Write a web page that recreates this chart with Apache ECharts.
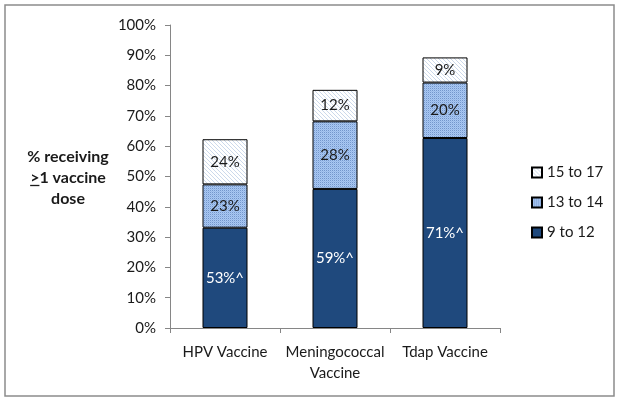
<!DOCTYPE html>
<html>
<head>
<meta charset="utf-8">
<script src="https://cdn.jsdelivr.net/npm/echarts@6/dist/echarts.min.js"></script>
<style>html,body{margin:0;padding:0;background:#fff;}#c{width:620px;height:401px;}</style>
</head>
<body>
<div id="c"></div>
<script>
var categories = ['HPV Vaccine', 'Meningococcal\nVaccine', 'Tdap Vaccine'];
var seriesNames = ['9 to 12', '13 to 14', '15 to 17'];
var values9to12 = [33.1, 45.9, 62.7];
var values13to14 = [14.3, 22.3, 18.3];
var values15to17 = [14.9, 10.4, 8.3];
var labels9to12 = ['53%^', '59%^', '71%^'];
var labels13to14 = ['23%', '28%', '20%'];
var labels15to17 = ['24%', '12%', '9%'];

var FONT = 'Lato, "Open Sans", sans-serif';
var chart = echarts.init(document.getElementById('c'), null, {renderer: 'canvas'});

function mkLabel(arr, color) {
  return {
    show: true, position: 'inside', color: color, fontSize: 15, fontFamily: FONT,
    formatter: function (p) { return arr[p.dataIndex]; }
  };
}

// pattern tiles
function stripeTile() {
  var c = document.createElement('canvas'); c.width = 4; c.height = 4;
  var g = c.getContext('2d');
  g.fillStyle = '#ffffff'; g.fillRect(0, 0, 4, 4);
  g.strokeStyle = '#ccd9eb'; g.lineWidth = 1;
  g.beginPath();
  g.moveTo(-1, -1); g.lineTo(5, 5);
  g.moveTo(-1, 3); g.lineTo(1, 5);
  g.moveTo(3, -1); g.lineTo(5, 1);
  g.stroke();
  return c;
}
function dotTile() {
  var c = document.createElement('canvas'); c.width = 2; c.height = 2;
  var g = c.getContext('2d');
  g.fillStyle = '#aac8f2'; g.fillRect(0, 0, 2, 2);
  g.fillStyle = '#7396cc'; g.fillRect(0, 0, 1, 1);
  g.fillStyle = '#98b9e8'; g.fillRect(1, 1, 1, 1);
  return c;
}

var titleFont = 'bold 16px ' + FONT;
var mc = document.createElement('canvas').getContext('2d');
mc.font = titleFont;
var line2W = mc.measureText('>1 vaccine').width;
var gtW = mc.measureText('>').width;
var titleCX = 68;
var ulX1 = titleCX - line2W / 2;

var option = {
  animation: false,
  backgroundColor: '#fff',
  grid: {left: 170, right: 120, top: 25, bottom: 73},
  legend: {
    orient: 'vertical', left: 526, top: 160, itemWidth: 10, itemHeight: 10, itemGap: 15, icon: 'rect',
    data: ['15 to 17', '13 to 14', '9 to 12'],
    textStyle: {fontSize: 15, color: '#1a1a1a', fontFamily: FONT}
  },
  xAxis: {
    type: 'category', data: categories,
    axisLine: {lineStyle: {color: '#868686', width: 1}},
    axisTick: {show: true, length: 5, lineStyle: {color: '#868686'}},
    axisLabel: {fontSize: 15, color: '#1a1a1a', fontFamily: FONT, margin: 14, lineHeight: 21, interval: 0}
  },
  yAxis: {
    type: 'value', min: 0, max: 100, interval: 10,
    axisLine: {show: true, lineStyle: {color: '#868686', width: 1}},
    axisTick: {show: true, length: 5, lineStyle: {color: '#868686'}},
    splitLine: {show: false},
    axisLabel: {fontSize: 15, color: '#1a1a1a', fontFamily: FONT, margin: 14,
      formatter: function (v) { return v + '%'; }}
  },
  graphic: [
    {type: 'rect', shape: {x: 5, y: 5, width: 609, height: 391},
     style: {fill: 'none', stroke: '#8c8c8c', lineWidth: 1.5}, silent: true},
    {type: 'text', x: titleCX, y: 146,
     style: {text: '% receiving\n>1 vaccine\ndose', textAlign: 'center', font: titleFont,
       fill: '#1a1a1a', lineHeight: 21}},
    {type: 'line', shape: {x1: ulX1, y1: 185.5, x2: ulX1 + gtW, y2: 185.5}, style: {stroke: '#1a1a1a', lineWidth: 1.3}}
  ],
  series: [
    {
      name: '9 to 12', type: 'bar', stack: 'a', barWidth: 45, data: values9to12,
      itemStyle: {color: '#1f497d', borderColor: '#000', borderWidth: 1},
      label: mkLabel(labels9to12, '#ffffff')
    },
    {
      name: '13 to 14', type: 'bar', stack: 'a', barWidth: 45, data: values13to14,
      itemStyle: {color: {image: dotTile(), repeat: 'repeat'}, borderColor: '#000', borderWidth: 1},
      label: mkLabel(labels13to14, '#1a1a1a')
    },
    {
      name: '15 to 17', type: 'bar', stack: 'a', barWidth: 45, data: values15to17,
      itemStyle: {color: {image: stripeTile(), repeat: 'repeat'}, borderColor: '#000', borderWidth: 1},
      label: mkLabel(labels15to17, '#1a1a1a')
    }
  ]
};
chart.setOption(option);
</script>
</body>
</html>
